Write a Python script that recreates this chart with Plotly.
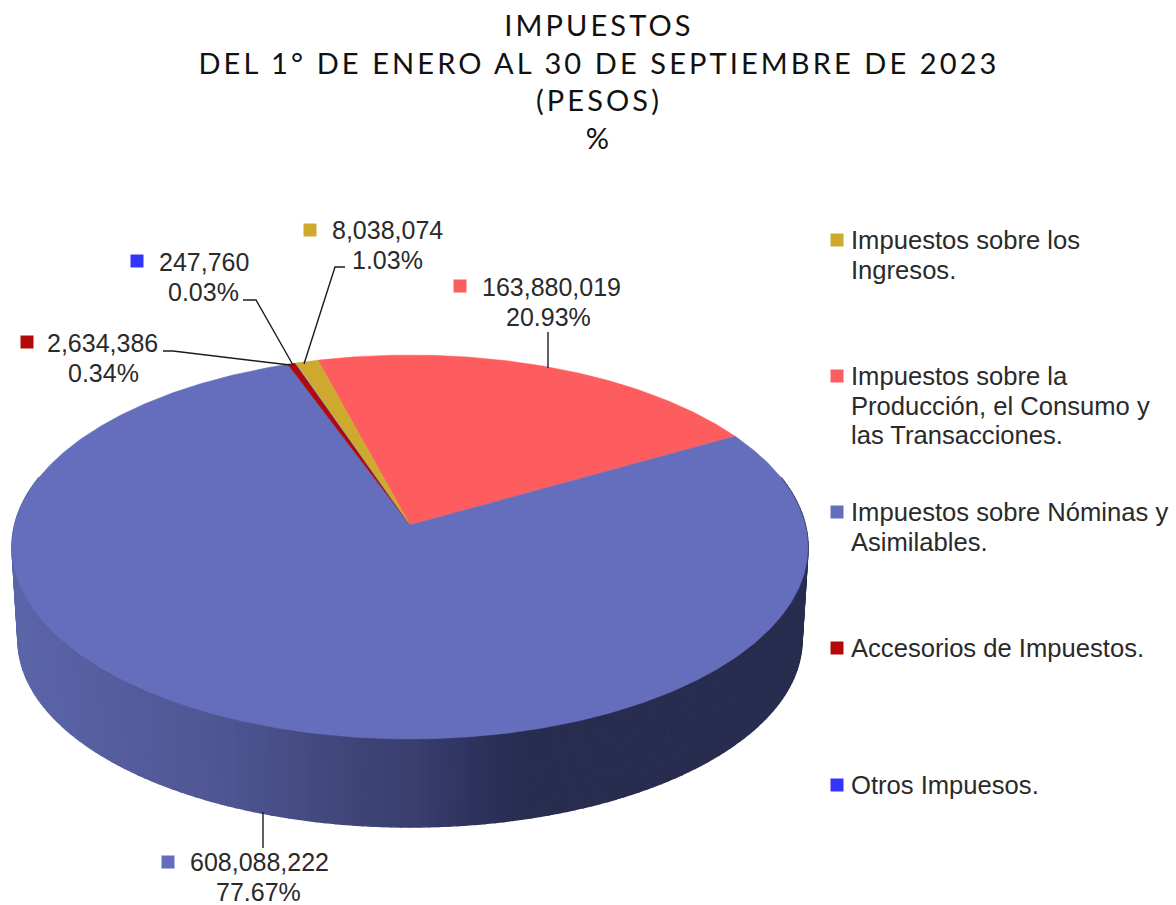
import numpy as np
import plotly.graph_objects as go

# ---- data (clockwise from the first slice) ----
categories = ["Impuestos sobre la Producción, el Consumo y las Transacciones.",
              "Impuestos sobre Nóminas y Asimilables.",
              "Accesorios de Impuestos.",
              "Otros Impuesos.",
              "Impuestos sobre los Ingresos."]
values = [163880019, 608088222, 2634386, 247760, 8038074]
value_labels = ["163,880,019", "608,088,222", "2,634,386", "247,760", "8,038,074"]
percent_labels = ["20.93%", "77.67%", "0.34%", "0.03%", "1.03%"]
colors = ["#fe5d5f", "#646ebd", "#b20808", "#3333ff", "#cdaa2d"]

title_lines = ["IMPUESTOS", "DEL 1° DE ENERO AL 30 DE SEPTIEMBRE DE 2023", "(PESOS)", "%"]

legend_order = [4, 0, 1, 2, 3]
legend_lines = [["Impuestos sobre los", "Ingresos."],
                ["Impuestos sobre la", "Producción, el Consumo y", "las Transacciones."],
                ["Impuestos sobre Nóminas y", "Asimilables."],
                ["Accesorios de Impuestos."],
                ["Otros Impuesos."]]

# ---- layout of the drawing, in pixels of the page ----
W, H = 1176, 905
CX, CY, RX, RY = 410.0, 547.0, 398.0, 192.0      # outline of the top face
APEX_SHIFT = 22.0                                 # perspective: centre sits above the middle
BOTTOM_CY, BOTTOM_RX, BOTTOM_RY = 640.0, 392.0, 187.0
START_DEG = -15.0
TEXT = "#2a2a2a"
FONT = "Liberation Sans"
SIZE = 25
LEGEND_SIZE = 25.6
LINE = 29.5

k = 2 * APEX_SHIFT / (2 * RY)
a = RX * np.sqrt(1 - k * k)


def rim(deg, cy=CY, scale_x=1.0, ry=RY):
    t = np.radians(deg)
    u, v = np.sin(t), np.cos(t)
    d = 1 + k * v
    return CX + scale_x * a * u / d, cy - (ry * v + APEX_SHIFT * ry / RY) / d


apex = (CX, CY - APEX_SHIFT)
fig = go.Figure()

# side wall, shaded left to right
grad_x = [12, 120, 230, 330, 410, 470, 530, 810]
grad_c = [(92, 102, 170), (85, 93, 158), (78, 86, 146), (66, 72, 124), (58, 63, 112),
          (47, 52, 95), (40, 44, 79), (40, 44, 79)]
phi = np.linspace(75, 285, 171)
for p0, p1 in zip(phi[:-1], phi[1:]):
    x0, y0 = rim(p0)
    x1, y1 = rim(p1)
    bx0, by0 = rim(p0, BOTTOM_CY, BOTTOM_RX / RX, BOTTOM_RY)
    bx1, by1 = rim(p1, BOTTOM_CY, BOTTOM_RX / RX, BOTTOM_RY)
    xm = (x0 + x1) / 2
    col = [np.interp(xm, grad_x, [c[i] for c in grad_c]) for i in range(3)]
    col = "rgb(%d,%d,%d)" % tuple(col)
    fig.add_trace(go.Scatter(x=[x0, x1, bx1, bx0, x0], y=[y0, y1, by1, by0, y0], mode="lines",
                             fill="toself", fillcolor=col, line=dict(color=col, width=1.5),
                             hoverinfo="skip", showlegend=False))

# top face, one wedge per value
total = sum(values)
start = START_DEG
for name, val, col in zip(categories, values, colors):
    sweep = 360.0 * val / total
    th = np.linspace(start, start + sweep, max(3, int(sweep * 2)))
    rx_, ry_ = rim(th)
    fig.add_trace(go.Scatter(x=[apex[0], *rx_, apex[0]], y=[apex[1], *ry_, apex[1]], mode="lines",
                             fill="toself", fillcolor=col, line=dict(color=col, width=0.5),
                             name=name, showlegend=False))
    start += sweep

# leader lines
leaders = {2: [(163, 351), (173, 351), (290, 365)],
           3: [(243, 300), (256, 300), (293, 365)],
           4: [(345, 267), (335, 267), (304, 364)],
           0: [(548, 332), (548, 368)],
           1: [(263, 812), (263, 848)]}
for pts in leaders.values():
    fig.add_trace(go.Scatter(x=[p[0] for p in pts], y=[p[1] for p in pts], mode="lines",
                             line=dict(color="#1c1c1c", width=1.4), hoverinfo="skip", showlegend=False))

# data labels with their keys
label_pos = {0: (460, 286, 551, 287, 548, 317),
             1: (168, 862, 259, 862, 258, 892),
             2: (27, 342, 102, 343, 103, 373),
             3: (137, 261, 204, 262, 203, 292),
             4: (310, 230, 387, 230, 387, 260)}
annots = []
for i, (sx, sy, tx, ty, px, py) in label_pos.items():
    fig.add_trace(go.Scatter(x=[sx], y=[sy], mode="markers",
                             marker=dict(symbol="square", size=13, color=colors[i], line=dict(width=0)),
                             hoverinfo="skip", showlegend=False))
    annots.append(dict(x=tx, y=ty, text=value_labels[i], xanchor="center", yanchor="middle",
                       font=dict(family=FONT, size=SIZE, color=TEXT)))
    annots.append(dict(x=px, y=py, text=percent_labels[i], xanchor="center", yanchor="middle",
                       font=dict(family=FONT, size=SIZE, color=TEXT)))

# legend
legend_y = [240, 376, 512, 648, 785]
for ly, idx, lines in zip(legend_y, legend_order, legend_lines):
    fig.add_trace(go.Scatter(x=[837], y=[ly], mode="markers",
                             marker=dict(symbol="square", size=13, color=colors[idx], line=dict(width=0)),
                             hoverinfo="skip", showlegend=False))
    for j, line in enumerate(lines):
        annots.append(dict(x=849, y=ly + j * LINE, text=line, xanchor="left", yanchor="middle",
                           font=dict(family=FONT, size=LEGEND_SIZE, color=TEXT)))

for an in annots:
    an.update(showarrow=False, xref="x", yref="y")

fig.update_layout(
    width=W, height=H, margin=dict(l=0, r=0, t=0, b=0),
    paper_bgcolor="white", plot_bgcolor="white", showlegend=False,
    xaxis=dict(visible=False, range=[0, W], fixedrange=True),
    yaxis=dict(visible=False, range=[H, 0], fixedrange=True),
    annotations=annots,
    title=dict(text="<br>".join(title_lines), x=599 / W, xanchor="center", y=1 - 36 / H, yanchor="top",
               font=dict(family="Lato", size=29, color="#111111")),
)

post = """
document.body.style.margin='0';
document.querySelectorAll('.gtitle').forEach(function(t){t.style.letterSpacing='3.1px';});
"""
fig.write_html("out.html", post_script=post, config=dict(displayModeBar=False))
